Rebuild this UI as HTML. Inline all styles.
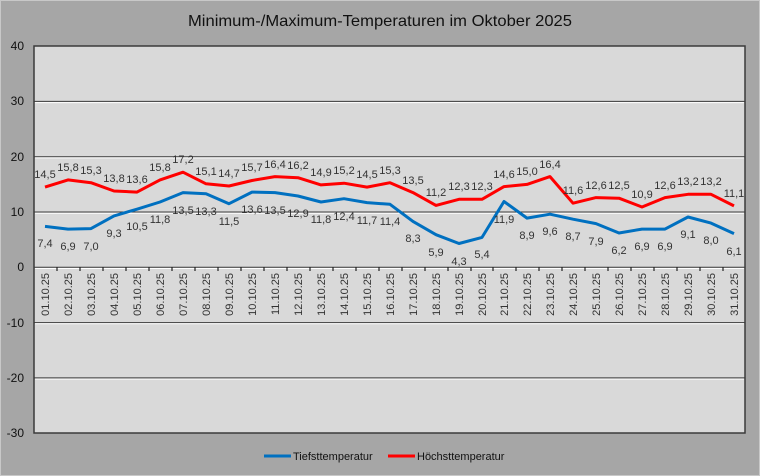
<!DOCTYPE html>
<html><head><meta charset="utf-8"><style>
html,body{margin:0;padding:0;background:#a6a6a6}
svg{display:block}
text{font-family:"Liberation Sans",sans-serif}
</style></head><body>
<svg width="760" height="476" xmlns="http://www.w3.org/2000/svg">
<rect x="0" y="0" width="760" height="476" fill="#a6a6a6"/>
<rect x="0.5" y="0.5" width="759" height="475" fill="none" stroke="#c8c8c8"/>
<text x="380" y="26" font-size="16" text-anchor="middle" fill="#111" textLength="384" lengthAdjust="spacingAndGlyphs">Minimum-/Maximum-Temperaturen im Oktober 2025</text>
<rect x="34" y="46" width="711" height="387" fill="#d9d9d9" stroke="#3a3a3a" stroke-width="1.5"/>
<g stroke="#3a3a3a" stroke-width="1">
<line x1="34" y1="101.4" x2="745" y2="101.4"/><line x1="34" y1="156.7" x2="745" y2="156.7"/>
<line x1="34" y1="212" x2="745" y2="212"/><line x1="34" y1="267.3" x2="745" y2="267.3"/>
<line x1="34" y1="322.6" x2="745" y2="322.6"/><line x1="34" y1="377.9" x2="745" y2="377.9"/>
</g>
<g stroke="#fff" stroke-width="1">
<line x1="35" y1="102.6" x2="744" y2="102.6"/><line x1="35" y1="157.9" x2="744" y2="157.9"/>
<line x1="35" y1="213.2" x2="744" y2="213.2"/><line x1="35" y1="268.5" x2="744" y2="268.5"/>
<line x1="35" y1="323.8" x2="744" y2="323.8"/><line x1="35" y1="379.1" x2="744" y2="379.1"/>
</g>
<g font-size="12" fill="#111" text-anchor="end">
<text x="24" y="50">40</text><text x="24" y="105">30</text><text x="24" y="161">20</text><text x="24" y="216">10</text><text x="24" y="271">0</text><text x="24" y="327">-10</text><text x="24" y="382">-20</text><text x="24" y="437">-30</text>
</g>
<g stroke="#222" stroke-width="1.2">
<line x1="57" y1="267" x2="57" y2="271"/><line x1="80" y1="267" x2="80" y2="271"/><line x1="103" y1="267" x2="103" y2="271"/><line x1="126" y1="267" x2="126" y2="271"/><line x1="149" y1="267" x2="149" y2="271"/><line x1="172" y1="267" x2="172" y2="271"/><line x1="195" y1="267" x2="195" y2="271"/><line x1="218" y1="267" x2="218" y2="271"/><line x1="241" y1="267" x2="241" y2="271"/><line x1="264" y1="267" x2="264" y2="271"/><line x1="287" y1="267" x2="287" y2="271"/><line x1="310" y1="267" x2="310" y2="271"/><line x1="333" y1="267" x2="333" y2="271"/><line x1="356" y1="267" x2="356" y2="271"/><line x1="379" y1="267" x2="379" y2="271"/><line x1="402" y1="267" x2="402" y2="271"/><line x1="425" y1="267" x2="425" y2="271"/><line x1="448" y1="267" x2="448" y2="271"/><line x1="471" y1="267" x2="471" y2="271"/><line x1="493" y1="267" x2="493" y2="271"/><line x1="516" y1="267" x2="516" y2="271"/><line x1="539" y1="267" x2="539" y2="271"/><line x1="562" y1="267" x2="562" y2="271"/><line x1="585" y1="267" x2="585" y2="271"/><line x1="608" y1="267" x2="608" y2="271"/><line x1="631" y1="267" x2="631" y2="271"/><line x1="654" y1="267" x2="654" y2="271"/><line x1="677" y1="267" x2="677" y2="271"/><line x1="700" y1="267" x2="700" y2="271"/><line x1="723" y1="267" x2="723" y2="271"/>
</g>
<g font-size="11" fill="#333" text-anchor="end">
<text transform="translate(49,273) rotate(-90)">01.10.25</text><text transform="translate(72,273) rotate(-90)">02.10.25</text><text transform="translate(95,273) rotate(-90)">03.10.25</text><text transform="translate(118,273) rotate(-90)">04.10.25</text><text transform="translate(141,273) rotate(-90)">05.10.25</text><text transform="translate(164,273) rotate(-90)">06.10.25</text><text transform="translate(187,273) rotate(-90)">07.10.25</text><text transform="translate(210,273) rotate(-90)">08.10.25</text><text transform="translate(233,273) rotate(-90)">09.10.25</text><text transform="translate(256,273) rotate(-90)">10.10.25</text><text transform="translate(279,273) rotate(-90)">11.10.25</text><text transform="translate(302,273) rotate(-90)">12.10.25</text><text transform="translate(325,273) rotate(-90)">13.10.25</text><text transform="translate(348,273) rotate(-90)">14.10.25</text><text transform="translate(371,273) rotate(-90)">15.10.25</text><text transform="translate(394,273) rotate(-90)">16.10.25</text><text transform="translate(417,273) rotate(-90)">17.10.25</text><text transform="translate(440,273) rotate(-90)">18.10.25</text><text transform="translate(463,273) rotate(-90)">19.10.25</text><text transform="translate(486,273) rotate(-90)">20.10.25</text><text transform="translate(508,273) rotate(-90)">21.10.25</text><text transform="translate(531,273) rotate(-90)">22.10.25</text><text transform="translate(554,273) rotate(-90)">23.10.25</text><text transform="translate(577,273) rotate(-90)">24.10.25</text><text transform="translate(600,273) rotate(-90)">25.10.25</text><text transform="translate(623,273) rotate(-90)">26.10.25</text><text transform="translate(646,273) rotate(-90)">27.10.25</text><text transform="translate(669,273) rotate(-90)">28.10.25</text><text transform="translate(692,273) rotate(-90)">29.10.25</text><text transform="translate(715,273) rotate(-90)">30.10.25</text><text transform="translate(738,273) rotate(-90)">31.10.25</text>
</g>
<polyline fill="none" stroke="#ff0000" stroke-width="3" stroke-linejoin="round" points="45,187.1 68,179.9 91,182.7 114,191 137,192.1 160,179.9 183,172.2 206,183.8 229,186 252,180.5 275,176.6 298,177.7 321,184.9 344,183.2 367,187.1 390,182.7 413,192.6 436,205.4 459,199.3 482,199.3 504,186.6 527,184.4 550,176.6 573,203.2 596,197.6 619,198.2 642,207 665,197.6 688,194.3 711,194.3 734,205.9"/>
<polyline fill="none" stroke="#0070c0" stroke-width="3" stroke-linejoin="round" points="45,226.4 68,229.1 91,228.6 114,215.9 137,209.2 160,202 183,192.6 206,193.7 229,203.7 252,192.1 275,192.6 298,196 321,202 344,198.7 367,202.6 390,204.3 413,221.4 436,234.7 459,243.5 482,237.4 504,201.5 527,218.1 550,214.2 573,219.2 596,223.6 619,233 642,229.1 665,229.1 688,217 711,223.1 734,233.6"/>
<g font-size="11" fill="#333" text-anchor="middle">
<text x="45" y="178">14,5</text><text x="68" y="171">15,8</text><text x="91" y="174">15,3</text><text x="114" y="182">13,8</text><text x="137" y="183">13,6</text><text x="160" y="171">15,8</text><text x="183" y="163">17,2</text><text x="206" y="175">15,1</text><text x="229" y="177">14,7</text><text x="252" y="171">15,7</text><text x="275" y="168">16,4</text><text x="298" y="169">16,2</text><text x="321" y="176">14,9</text><text x="344" y="174">15,2</text><text x="367" y="178">14,5</text><text x="390" y="174">15,3</text><text x="413" y="184">13,5</text><text x="436" y="196">11,2</text><text x="459" y="190">12,3</text><text x="482" y="190">12,3</text><text x="504" y="178">14,6</text><text x="527" y="175">15,0</text><text x="550" y="168">16,4</text><text x="573" y="194">11,6</text><text x="596" y="189">12,6</text><text x="619" y="189">12,5</text><text x="642" y="198">10,9</text><text x="665" y="189">12,6</text><text x="688" y="185">13,2</text><text x="711" y="185">13,2</text><text x="734" y="197">11,1</text>
<text x="45" y="247">7,4</text><text x="68" y="250">6,9</text><text x="91" y="250">7,0</text><text x="114" y="237">9,3</text><text x="137" y="230">10,5</text><text x="160" y="223">11,8</text><text x="183" y="214">13,5</text><text x="206" y="215">13,3</text><text x="229" y="225">11,5</text><text x="252" y="213">13,6</text><text x="275" y="214">13,5</text><text x="298" y="217">12,9</text><text x="321" y="223">11,8</text><text x="344" y="220">12,4</text><text x="367" y="224">11,7</text><text x="390" y="225">11,4</text><text x="413" y="242">8,3</text><text x="436" y="256">5,9</text><text x="459" y="265">4,3</text><text x="482" y="258">5,4</text><text x="504" y="223">11,9</text><text x="527" y="239">8,9</text><text x="550" y="235">9,6</text><text x="573" y="240">8,7</text><text x="596" y="245">7,9</text><text x="619" y="254">6,2</text><text x="642" y="250">6,9</text><text x="665" y="250">6,9</text><text x="688" y="238">9,1</text><text x="711" y="244">8,0</text><text x="734" y="255">6,1</text>
</g>
<line x1="264" y1="456" x2="291" y2="456" stroke="#0070c0" stroke-width="3"/>
<text x="293" y="460" font-size="11" fill="#111">Tiefsttemperatur</text>
<line x1="388" y1="456" x2="415" y2="456" stroke="#ff0000" stroke-width="3"/>
<text x="417" y="460" font-size="11" fill="#111">Höchsttemperatur</text>
</svg>
</body></html>
